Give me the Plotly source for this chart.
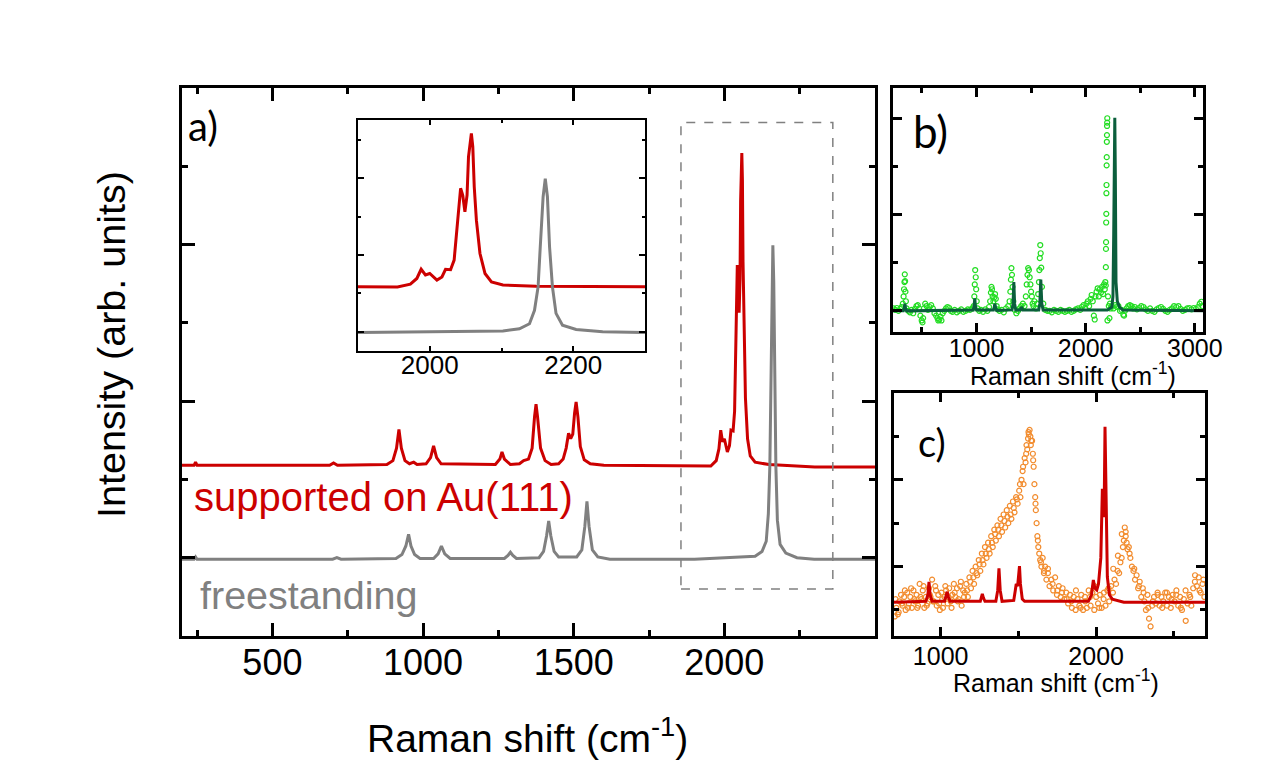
import plotly.graph_objects as go

# ---- panel a): Raman spectra, stacked, arbitrary units ----
red_x = [200, 240, 245, 250, 690, 703, 716,
         880, 900, 912, 920, 928, 940, 955, 969, 980,
         1010, 1025, 1035, 1045, 1060,
         1240, 1255, 1262, 1270, 1290,
         1320, 1334, 1350, 1362, 1370, 1375, 1380, 1390, 1405, 1425,
         1450, 1465, 1475, 1483, 1490, 1497, 1503, 1508, 1514, 1522, 1535, 1555,
         1600, 1901, 1955, 1973, 1982, 1988, 1994, 2000, 2010, 2017, 2022, 2029,
         2034, 2039, 2043, 2046, 2049, 2052, 2054, 2058, 2060, 2062, 2065, 2070,
         2077, 2086, 2102, 2148, 2300, 2500]
red_y = [2.18, 2.18, 2.22, 2.18, 2.18, 2.21, 2.18,
         2.19, 2.24, 2.40, 2.64, 2.40, 2.24, 2.20, 2.22, 2.19,
         2.20, 2.28, 2.43, 2.28, 2.20,
         2.19, 2.26, 2.35, 2.26, 2.19,
         2.20, 2.24, 2.26, 2.40, 2.80, 2.96, 2.80, 2.40, 2.24, 2.19,
         2.20, 2.26, 2.40, 2.59, 2.52, 2.58, 2.85, 2.99, 2.80, 2.42, 2.25, 2.20,
         2.18, 2.17, 2.17, 2.24, 2.39, 2.63, 2.48, 2.52, 2.35, 2.43, 2.63, 2.62,
         2.87, 3.91, 4.74, 4.56, 4.13, 4.56, 5.56, 6.17, 5.82, 4.78, 3.91, 3.04,
         2.52, 2.30, 2.22, 2.19, 2.16, 2.16]

gray_x = [200, 240, 245, 250, 700, 714, 728,
          910, 930, 943, 952, 960, 972, 990,
          1035, 1050, 1061, 1072, 1090,
          1270, 1282, 1290, 1298, 1310,
          1385, 1400, 1410, 1417, 1424, 1435, 1450,
          1510, 1527, 1537, 1544, 1551, 1562, 1580,
          1620, 1901, 2102, 2125, 2139, 2146, 2151, 2154, 2158, 2161, 2164,
          2167, 2171, 2176, 2185, 2204, 2241, 2298, 2500]
gray_y = [0.98, 0.98, 1.01, 0.98, 0.98, 1.00, 0.98,
          0.99, 1.04, 1.15, 1.30, 1.15, 1.04, 0.99,
          0.99, 1.05, 1.15, 1.05, 0.99,
          0.99, 1.03, 1.07, 1.03, 0.99,
          1.00, 1.08, 1.28, 1.47, 1.28, 1.08, 1.01,
          1.01, 1.10, 1.40, 1.72, 1.40, 1.10, 1.01,
          0.98, 0.98, 1.02, 1.08, 1.21, 1.56, 2.17, 3.21, 4.52, 4.99, 4.52,
          3.21, 2.17, 1.48, 1.17, 1.06, 1.00, 0.98, 0.98]

zoom_box_x = [1856, 2360]
zoom_box_y = [0.60, 6.56]

# ---- panel b): measured (green circles) vs calculated (dark green line) ----
green_x = [240, 255, 270, 285, 300, 315, 325, 332, 336, 340, 343, 346, 349, 353,
           360, 375, 390, 405, 420, 435, 450, 462, 474, 486, 498, 505, 511, 518,
           530, 542, 555, 570, 585, 600, 615, 630, 642, 650, 660, 670, 679, 690,
           705, 720, 735, 750, 765, 780, 800, 820, 840, 860, 880, 900, 920, 940, 960,
           975, 980, 984, 988, 993, 997, 1002, 1010, 1025, 1040, 1060, 1080, 1100,
           1115, 1125, 1132, 1137, 1142, 1148, 1155, 1163, 1170, 1177, 1185, 1195,
           1210, 1230, 1250, 1270, 1290, 1303, 1310, 1315, 1320, 1325, 1330, 1337,
           1350, 1365, 1380, 1395, 1410, 1425, 1440, 1452, 1460, 1467, 1473, 1480,
           1487, 1494, 1500, 1507, 1514, 1522, 1530, 1545, 1556, 1565, 1572, 1576,
           1580, 1584, 1588, 1593, 1600, 1612, 1630, 1650,
           1670, 1690, 1710, 1730, 1750, 1770, 1790, 1810, 1830, 1850, 1870, 1890,
           1910, 1930, 1950, 1965, 1980, 1995, 2008, 2020, 2032, 2045, 2055, 2065,
           2075, 2083, 2090, 2100, 2110, 2120, 2130, 2140, 2150, 2160, 2168, 2175,
           2180, 2184, 2185, 2186, 2187, 2188, 2189, 2190, 2191, 2192, 2193, 2194,
           2195, 2196, 2197, 2198, 2200, 2205, 2212, 2218, 2222, 2228, 2240, 2255,
           2270, 2285, 2300, 2315, 2330, 2345, 2352, 2360, 2375, 2390, 2405, 2420,
           2435, 2450, 2470, 2490, 2510, 2530, 2550, 2570, 2590, 2610, 2630, 2650,
           2670, 2690, 2710, 2730, 2750, 2770, 2790, 2810, 2830, 2850, 2870, 2890,
           2910, 2930, 2950, 2970, 2990, 3010, 3030, 3045, 3060, 3070]
green_y = [0.05, 0.02, 0.06, 0.00, 0.04, 0.08, 0.15, 0.30, 0.45, 0.60, 0.76, 0.62, 0.40, 0.20,
           0.05, 0.00, -0.03, 0.02, -0.05, 0.04, 0.10, 0.12, 0.05, -0.10, -0.20, -0.24, -0.15, 0.05,
           0.15, 0.10, 0.02, 0.08, 0.12, 0.05, -0.05, -0.10, -0.15, -0.20, -0.18, -0.12, -0.20, -0.05,
           0.00, 0.05, 0.08, 0.06, 0.00, -0.02, 0.02, -0.03, 0.00, 0.03, -0.02, 0.00, 0.03, 0.02, 0.05,
           0.10, 0.30, 0.55, 0.85, 0.70, 0.45, 0.20, 0.05, 0.00, 0.02, -0.02, 0.03, 0.00,
           0.08, 0.20, 0.38, 0.50, 0.45, 0.30, 0.20, 0.28, 0.35, 0.25, 0.10, 0.03,
           0.00, 0.02, -0.03, 0.05, 0.10, 0.20, 0.40, 0.65, 0.89, 0.75, 0.50, 0.20,
           0.02, -0.05, 0.00, 0.05, 0.10, 0.15, 0.10, 0.30, 0.55, 0.75, 0.89, 0.85,
           0.70, 0.55, 0.40, 0.30, 0.15, 0.10, 0.20, 0.05, 0.15, 0.35, 0.60, 0.85,
           1.10, 1.37, 1.20, 0.90, 0.50, 0.15, 0.02, 0.00,
           0.00, -0.03, 0.02, 0.00, -0.02, 0.02, 0.00, -0.02, 0.00, 0.02, -0.02, 0.00,
           0.03, 0.05, 0.02, 0.08, 0.12, 0.06, 0.15, 0.20, 0.10, 0.25, 0.33, 0.20,
           -0.10, -0.18, 0.30, 0.40, 0.47, 0.30, 0.45, 0.38, 0.50, 0.35, 0.55, 0.45,
           0.60, 0.53, 0.91, 1.29, 1.43, 1.84, 2.02, 2.45, 2.62, 3.03, 3.20, 3.52,
           3.66, 3.85, 3.92, 4.01, -0.20, 0.30, 0.10, -0.15, 0.15, 0.05, 0.10, 0.05,
           0.12, 0.08, 0.10, 0.00, 0.02, -0.08, -0.10, 0.00, 0.05, 0.10, 0.12, 0.10,
           0.05, 0.08, 0.03, 0.06, 0.10, 0.08, 0.03, 0.00, 0.05, 0.00, -0.02, 0.03,
           0.06, 0.08, 0.04, 0.00, -0.02, 0.02, 0.05, 0.10, 0.08, 0.10, 0.04, 0.00,
           0.02, 0.05, 0.06, 0.03, 0.06, 0.04, 0.08, 0.15, 0.19, 0.10]

calc_b_x = [235, 330, 338, 344, 350, 360, 970, 978, 984, 990, 1000,
            1155, 1162, 1168, 1175, 1185, 1325, 1335, 1342, 1349, 1360,
            1400, 1412, 1425, 1570, 1580, 1589, 1598, 1610,
            2200, 2240, 2250, 2257, 2262, 2267, 2272, 2278, 2290, 2310, 2340, 3075]
calc_b_y = [0.00, 0.00, 0.05, 0.15, 0.05, 0.00, 0.02, 0.10, 0.26, 0.10, 0.02,
            0.02, 0.07, 0.15, 0.07, 0.01, 0.02, 0.15, 0.60, 0.15, 0.02,
            0.02, 0.08, 0.02, 0.02, 0.15, 0.65, 0.15, 0.02,
            0.02, 0.08, 0.30, 1.60, 3.00, 4.02, 2.80, 0.60, 0.20, 0.08, 0.02, 0.00]

# ---- panel c): measured (orange circles) vs calculated (red line) ----
orange_x = [705, 715, 725, 735, 745, 755, 765, 775, 785, 795, 805, 815, 825, 835, 845,
            855, 865, 875, 885, 895, 905, 915, 925, 935, 945, 955, 965, 975, 985, 995,
            1005, 1015, 1025, 1035, 1045, 1055, 1065, 1075, 1085, 1095, 1105, 1115, 1125,
            1135, 1145,
            1155, 1165, 1175, 1185, 1195, 1205, 1215, 1225, 1235, 1245, 1255, 1265, 1275,
            1285, 1295, 1305, 1315, 1325, 1335, 1345, 1355, 1365, 1375, 1385, 1395, 1405,
            1415, 1425, 1435, 1445, 1455, 1465, 1475, 1485, 1495, 1505, 1513, 1520, 1527,
            1533, 1540, 1546, 1552, 1557, 1562, 1567, 1572, 1577, 1582,
            1588, 1593, 1598, 1603, 1608, 1612, 1617, 1622, 1628, 1634, 1640, 1648, 1656,
            1664, 1672, 1680, 1690, 1700, 1712, 1724, 1736, 1748, 1760, 1772, 1784, 1796,
            1808, 1820, 1832, 1844, 1856, 1868, 1880, 1892, 1904, 1916, 1928, 1940,
            1952, 1964, 1976, 1988, 2000, 2012, 2024, 2036, 2048, 2060, 2072, 2084, 2096,
            2108, 2118, 2128, 2138, 2148, 2156, 2164, 2172, 2178, 2184, 2190, 2196, 2202,
            2210, 2220, 2230, 2240, 2250, 2260, 2270, 2280, 2290, 2300, 2310, 2320, 2330,
            2340, 2350, 2360, 2372, 2384, 2396, 2408, 2420, 2432, 2444, 2456, 2468, 2480,
            2492, 2504, 2516, 2528, 2540, 2552, 2564, 2576, 2588, 2600, 2612, 2624, 2636,
            2648, 2660, 2672, 2684, 2696]
orange_y = [-0.15, 0.05, -0.10, 0.20, 0.35, 0.10, 0.30, 0.00, 0.40, 0.15, 0.30, 0.05, 0.45, 0.20, 0.35,
            0.10, 0.60, 0.25, 0.45, 0.05, 0.30, 0.15, 0.50, 0.30, 0.70, 0.20, 0.55, 0.10, 0.35, 0.00,
            0.40, 0.05, 0.30, 0.45, 0.15, 0.50, 0.20, 0.35, 0.60, 0.30, 0.50, 0.25, 0.55,
            0.10, 0.45,
            0.40, 0.60, 0.30, 0.75, 0.50, 0.90, 0.60, 1.00, 0.80, 1.15, 0.90, 1.30, 1.05,
            1.45, 1.20, 1.55, 1.30, 1.70, 1.45, 1.85, 1.60, 1.95, 1.70, 2.10, 1.80, 2.20,
            1.90, 2.30, 2.00, 2.40, 2.10, 2.50, 2.25, 2.60, 2.45, 2.75, 2.60, 3.00, 3.20,
            2.90, 3.50, 3.40, 3.80, 3.70, 3.95, 4.05, 4.15, 4.00, 3.90,
            3.90, 3.60, 3.30, 2.90, 2.60, 2.30, 2.00, 1.70, 1.45, 1.30, 1.15, 1.00, 1.20,
            0.85, 1.00, 0.70, 0.85, 0.55, 0.70, 0.45, 0.75, 0.35, 0.55, 0.30, 0.50, 0.25,
            0.40, 0.15, 0.35, 0.05, 0.30, 0.00, 0.25, 0.10, 0.35, 0.00, 0.30, 0.05,
            0.45, 0.10, 0.40, 0.00, 0.30, 0.15, 0.35, 0.05, 0.25, 0.10, 0.45, 0.20, 0.55,
            0.40, 0.70, 0.60, 0.90, 0.85, 1.10, 1.20, 1.45, 1.60, 1.90, 1.70, 1.55, 1.40,
            1.45, 1.20, 1.00, 0.90, 0.70, 0.80, 0.50, 0.65, 0.30, 0.50, 0.20, 0.00, 0.35,
            -0.20, -0.38, 0.10, 0.30, 0.15, 0.35, 0.10, 0.30, 0.20, 0.40, 0.10, 0.30, 0.05,
            0.35, 0.20, 0.45, 0.10, 0.30, 0.00, 0.25, -0.25, 0.15, 0.35, 0.10, 0.50, 0.80,
            0.55, 0.75, 0.40, 0.60, 0.30]

# second, interleaved scan of the same measurement (fills out the noisy band)
orange2_x = [710, 730, 750, 770, 790, 810, 830, 850, 870, 890, 910, 930, 950, 970, 990,
             1010, 1030, 1050, 1070, 1090, 1110, 1130, 1150, 1170, 1190, 1210, 1230,
             1250, 1270, 1290, 1310, 1330, 1350, 1370, 1390, 1410, 1430, 1450, 1470,
             1490, 1510, 1530, 1550, 1565, 1580, 1595, 1610, 1625, 1645, 1665, 1690,
             1720, 1750, 1780, 1810, 1840, 1870, 1900, 1930, 1960, 1990, 2020, 2050,
             2080, 2110, 2140, 2165, 2190, 2215, 2245, 2275, 2305, 2335, 2365, 2395,
             2425, 2455, 2485, 2515, 2545, 2575, 2605, 2635, 2665, 2690]
orange2_y = [0.25, -0.05, 0.15, 0.45, 0.05, 0.50, 0.25, 0.05, 0.30, 0.55, 0.10, 0.35, 0.20,
             0.45, 0.15, 0.25, 0.55, 0.30, 0.05, 0.40, 0.20, 0.65, 0.30, 0.45, 0.65, 0.75,
             0.85, 1.05, 1.15, 1.30, 1.40, 1.55, 1.75, 1.85, 1.95, 2.05, 2.15, 2.20, 2.35,
             2.55, 2.90, 3.30, 3.60, 4.10, 3.80, 3.45, 2.45, 1.60, 1.10, 0.90, 0.95,
             0.60, 0.45, 0.40, 0.25, 0.20, 0.45, 0.05, 0.20, 0.30, 0.55, 0.05, 0.40,
             0.50, 0.95, 1.25, 1.75, 1.80, 1.30, 0.95, 0.55, 0.40, 0.05, 0.20, 0.40,
             0.05, 0.40, 0.25, 0.35, 0.05, 0.45, 0.30, 0.65, 0.45, 0.70]

red_c_x = [700, 905, 918, 925, 932, 945, 1025, 1035, 1042, 1050, 1060,
           1255, 1262, 1268, 1275, 1285, 1355, 1367, 1375, 1383, 1395,
           1470, 1480, 1486, 1495, 1502, 1507, 1513, 1525, 1540,
           1950, 1970, 1982, 1992, 2004, 2015, 2030, 2040, 2046, 2051, 2057, 2063,
           2072, 2085, 2104, 2178, 2700]
red_c_y = [0.18, 0.20, 0.35, 0.65, 0.35, 0.20, 0.20, 0.30, 0.42, 0.30, 0.20,
           0.20, 0.28, 0.37, 0.28, 0.20, 0.20, 0.45, 0.96, 0.45, 0.20,
           0.22, 0.45, 0.60, 0.55, 0.85, 1.01, 0.60, 0.25, 0.20,
           0.20, 0.35, 0.69, 0.50, 0.46, 0.60, 1.20, 2.79, 2.30, 2.14, 4.22, 2.50,
           0.76, 0.35, 0.25, 0.18, 0.18]

RED = '#cc0000'
GRAY = '#808080'
ORANGE = '#f28c2e'
W, H = 1271, 765


def dx(a, b):
  return [a / W, b / W]


def dy(top, bottom):
  return [1 - bottom / H, 1 - top / H]


def frame(domain, rng, anchor, tick0, dtick, mtick0, mdtick, tlen, mlen,
          lw=3, labels=False, size=27, standoff=0, tickvals=None):
  ax = dict(domain=domain, range=rng, anchor=anchor, showline=True,
            linecolor='black', linewidth=lw, mirror='allticks', automargin=False,
            ticks='inside', ticklen=tlen, tickwidth=lw, tickcolor='black',
            tick0=tick0, dtick=dtick, showgrid=False, zeroline=False,
            minor=dict(ticks='inside', tick0=mtick0, dtick=mdtick,
                       ticklen=mlen, tickwidth=lw, tickcolor='black',
                       showgrid=False),
            showticklabels=labels, ticklabelstandoff=standoff,
            tickfont=dict(size=size, color='black', family='Liberation Sans'))
  if tickvals is not None:
    ax.update(tickmode='array', tickvals=tickvals)
  return ax


def circles(color):
  return dict(symbol='circle-open', size=5, color=color, line=dict(width=1.2))


fig = go.Figure()
fig.add_trace(go.Scatter(x=red_x, y=red_y, mode='lines',
                         line=dict(color=RED, width=3), xaxis='x', yaxis='y'))
fig.add_trace(go.Scatter(x=gray_x, y=gray_y, mode='lines',
                         line=dict(color=GRAY, width=3), xaxis='x', yaxis='y'))
fig.add_trace(go.Scatter(x=red_x, y=red_y, mode='lines',
                         line=dict(color=RED, width=3), xaxis='x2', yaxis='y2'))
fig.add_trace(go.Scatter(x=gray_x, y=gray_y, mode='lines',
                         line=dict(color=GRAY, width=3), xaxis='x2', yaxis='y2'))
fig.add_trace(go.Scatter(x=green_x, y=green_y, mode='markers',
                         marker=circles('#22dd22'), xaxis='x3', yaxis='y3'))
fig.add_trace(go.Scatter(x=calc_b_x, y=calc_b_y, mode='lines',
                         line=dict(color='#0b5e3c', width=3), xaxis='x3', yaxis='y3'))
fig.add_trace(go.Scatter(x=orange_x, y=orange_y, mode='markers',
                         marker=circles(ORANGE), xaxis='x4', yaxis='y4'))
fig.add_trace(go.Scatter(x=orange2_x, y=orange2_y, mode='markers',
                         marker=circles(ORANGE), xaxis='x4', yaxis='y4'))
fig.add_trace(go.Scatter(x=red_c_x, y=red_c_y, mode='lines',
                         line=dict(color=RED, width=3), xaxis='x4', yaxis='y4'))

fig.add_shape(type='rect', xref='x', yref='y',
              x0=zoom_box_x[0], x1=zoom_box_x[1], y0=zoom_box_y[0], y1=zoom_box_y[1],
              line=dict(color=GRAY, width=1.5, dash='dash'))

fig.update_layout(
  template='none',
  width=W, height=H, autosize=False, margin=dict(l=0, r=0, t=0, b=0, pad=0),
  paper_bgcolor='white', plot_bgcolor='rgba(0,0,0,0)', showlegend=False,
  font=dict(family='Liberation Sans', color='black'),
  xaxis=frame(dx(182, 875), [200, 2500], 'y', 0, 500, 0, 250, 13, 6,
              labels=True, size=36, standoff=-7, tickvals=[500, 1000, 1500, 2000]),
  yaxis=frame(dy(88, 636), [0, 7], 'x', 1, 2, 0, 1, 13, 6),
  xaxis2=frame(dx(358, 645), [1900, 2300], 'y2', 2000, 200, 2000, 100, 5, 3,
               lw=2, labels=True, size=26, standoff=-10),
  yaxis2=frame(dy(120, 351), [0.5, 6.52], 'x2', 1, 2, 0, 1, 6, 3, lw=2),
  xaxis3=frame(dx(893, 1203), [235, 3075], 'y3', 0, 1000, 0, 500, 9, 5,
               labels=True, size=25, standoff=-8),
  yaxis3=frame(dy(88, 332), [-0.44, 4.64], 'x3', 0, 2, 0, 1, 9, 5),
  xaxis4=frame(dx(894, 1205), [700, 2700], 'y4', 0, 1000, 0, 500, 9, 5,
               labels=True, size=25, standoff=-4),
  yaxis4=frame(dy(393, 636), [-0.6, 5.0], 'x4', 1, 2, 0, 1, 9, 5),
)


def label(text, px, py, size, color='black', family='Liberation Sans',
          xanchor='center', angle=0):
  fig.add_annotation(text=text, x=px / W, y=1 - py / H,
                     xref='paper', yref='paper',
                     xanchor=xanchor, yanchor='middle', showarrow=False,
                     textangle=angle, font=dict(size=size, color=color, family=family))


label('a)', 186, 126, 40, family='Lato', xanchor='left')
label('b)', 911, 131, 44, family='Lato', xanchor='left')
label('c)', 916, 442, 38, family='Lato', xanchor='left')
label('supported on Au(111)', 192, 497, 40, color=RED, xanchor='left')
label('freestanding', 198, 595, 39.5, color=GRAY, xanchor='left')
label('Raman shift (cm<sup>-1</sup>)', 527, 735, 39)
label('Intensity (arb. units)', 111, 344, 39.5, angle=-90)
label('Raman shift (cm<sup>-1</sup>)', 1073, 374, 25)
label('Raman shift (cm<sup>-1</sup>)', 1056, 681, 25)

# the page would otherwise add an 8 px body margin and scrollbars
fig.write_html('out.html',
               config={'responsive': False, 'displayModeBar': False},
               post_script="document.body.style.margin='0';"
                           "document.body.style.overflow='hidden';")
